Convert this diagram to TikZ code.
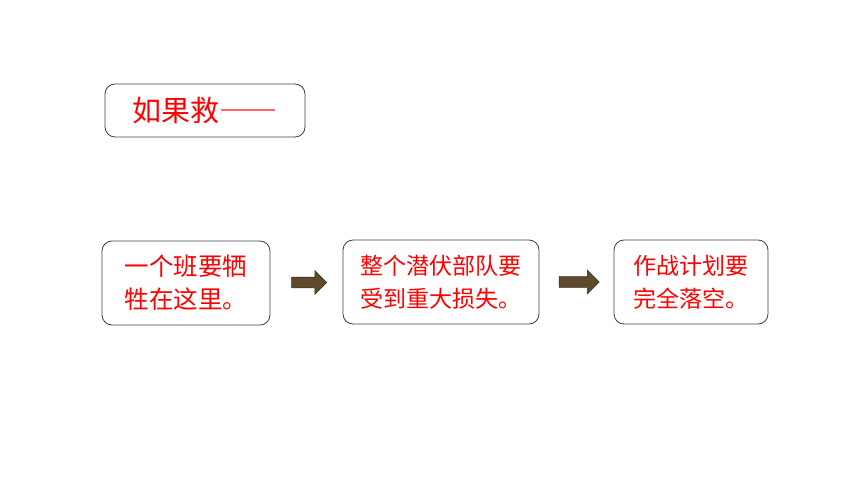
\documentclass[tikz,border=0pt]{standalone}
\usepackage{fontspec}
\usepackage{xcolor}
\usepackage{tikz}
\usetikzlibrary{shapes.arrows, calc}
\newfontfamily\cjk{Noto Sans CJK SC}
\definecolor{rouge}{rgb}{1.0, 0.0, 0.0}
\definecolor{brun}{RGB}{94,75,47}
\definecolor{brunfonce}{RGB}{60,48,30}
\definecolor{bord}{RGB}{64,64,64}

\begin{document}
\begin{tikzpicture}[x=1pt, y=-1pt,
    boite/.style={draw=bord, line width=0.8pt, rounded corners=10pt, align=left, text=rouge, inner sep=0pt},
    fleche/.style={single arrow, draw=brunfonce, fill=brun, line width=0.6pt, inner sep=5pt, single arrow head extend=6.5pt}]
    \useasboundingbox (0,0) rectangle (860,484);

    \node[boite, minimum width=200pt, minimum height=53pt, font=\cjk\fontsize{29}{36}\selectfont] (titre) at (205,110.5) {如果救{\addfontfeature{RawFeature=+fwid}——}};

    \node[boite, minimum width=168pt, minimum height=84pt, font=\cjk\fontsize{24.5}{33}\selectfont] (b1) at (186,283) {一个班要牺\\牲在这里。};
    \node[boite, minimum width=196pt, minimum height=84pt, font=\cjk\fontsize{23}{33}\selectfont] (b2) at (441,282) {整个潜伏部队要\\受到重大损失。};
    \node[boite, minimum width=154pt, minimum height=84pt, font=\cjk\fontsize{23}{33}\selectfont] (b3) at (691,282) {作战计划要\\完全落空。};

    \node[fleche, minimum height=35pt] (f1) at ($(b1.east)!0.5!(b2.west)$) {};
    \node[fleche, minimum height=40pt] (f2) at ($(b2.east)!0.5!(b3.west)$) {};
\end{tikzpicture}
\end{document}
